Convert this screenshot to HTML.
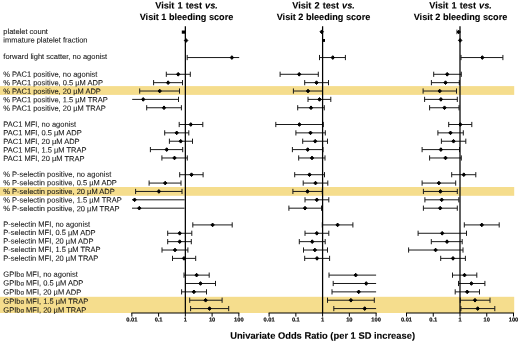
<!DOCTYPE html><html><head><meta charset="utf-8"><style>html,body{margin:0;padding:0;background:#fff}svg{display:block}text{font-family:"Liberation Sans",sans-serif}</style></head><body>
<svg width="520" height="343" viewBox="0 0 520 343">
<rect width="520" height="343" fill="#fff"/>
<rect x="0" y="86.1" width="514.2" height="8.8" fill="#F5DD8D"/>
<rect x="0" y="187.0" width="514.2" height="8.8" fill="#F5DD8D"/>
<rect x="0" y="296.8" width="514.2" height="16.2" fill="#F5DD8D"/>
<line x1="187.2" y1="57.55" x2="239.2" y2="57.55" stroke="#1a1a1a" stroke-width="1.0"/>
<line x1="187.2" y1="54.95" x2="187.2" y2="60.15" stroke="#1a1a1a" stroke-width="1.0"/>
<line x1="166.3" y1="74.29" x2="190.3" y2="74.29" stroke="#1a1a1a" stroke-width="1.0"/>
<line x1="166.3" y1="71.69" x2="166.3" y2="76.89" stroke="#1a1a1a" stroke-width="1.0"/>
<line x1="190.3" y1="71.69" x2="190.3" y2="76.89" stroke="#1a1a1a" stroke-width="1.0"/>
<line x1="153.6" y1="82.66" x2="182.5" y2="82.66" stroke="#1a1a1a" stroke-width="1.0"/>
<line x1="153.6" y1="80.06" x2="153.6" y2="85.26" stroke="#1a1a1a" stroke-width="1.0"/>
<line x1="182.5" y1="80.06" x2="182.5" y2="85.26" stroke="#1a1a1a" stroke-width="1.0"/>
<line x1="139.7" y1="91.03" x2="179.5" y2="91.03" stroke="#1a1a1a" stroke-width="1.0"/>
<line x1="139.7" y1="88.43" x2="139.7" y2="93.63" stroke="#1a1a1a" stroke-width="1.0"/>
<line x1="179.5" y1="88.43" x2="179.5" y2="93.63" stroke="#1a1a1a" stroke-width="1.0"/>
<line x1="132.2" y1="99.39" x2="178.5" y2="99.39" stroke="#1a1a1a" stroke-width="1.0"/>
<line x1="178.5" y1="96.79" x2="178.5" y2="101.99" stroke="#1a1a1a" stroke-width="1.0"/>
<line x1="146.7" y1="107.76" x2="181.4" y2="107.76" stroke="#1a1a1a" stroke-width="1.0"/>
<line x1="146.7" y1="105.16" x2="146.7" y2="110.36" stroke="#1a1a1a" stroke-width="1.0"/>
<line x1="181.4" y1="105.16" x2="181.4" y2="110.36" stroke="#1a1a1a" stroke-width="1.0"/>
<line x1="179.2" y1="124.50" x2="202.8" y2="124.50" stroke="#1a1a1a" stroke-width="1.0"/>
<line x1="179.2" y1="121.90" x2="179.2" y2="127.10" stroke="#1a1a1a" stroke-width="1.0"/>
<line x1="202.8" y1="121.90" x2="202.8" y2="127.10" stroke="#1a1a1a" stroke-width="1.0"/>
<line x1="164.7" y1="132.87" x2="188.8" y2="132.87" stroke="#1a1a1a" stroke-width="1.0"/>
<line x1="164.7" y1="130.27" x2="164.7" y2="135.47" stroke="#1a1a1a" stroke-width="1.0"/>
<line x1="188.8" y1="130.27" x2="188.8" y2="135.47" stroke="#1a1a1a" stroke-width="1.0"/>
<line x1="169.4" y1="141.23" x2="192.5" y2="141.23" stroke="#1a1a1a" stroke-width="1.0"/>
<line x1="169.4" y1="138.63" x2="169.4" y2="143.83" stroke="#1a1a1a" stroke-width="1.0"/>
<line x1="192.5" y1="138.63" x2="192.5" y2="143.83" stroke="#1a1a1a" stroke-width="1.0"/>
<line x1="150.4" y1="149.60" x2="182.7" y2="149.60" stroke="#1a1a1a" stroke-width="1.0"/>
<line x1="150.4" y1="147.00" x2="150.4" y2="152.20" stroke="#1a1a1a" stroke-width="1.0"/>
<line x1="182.7" y1="147.00" x2="182.7" y2="152.20" stroke="#1a1a1a" stroke-width="1.0"/>
<line x1="161.9" y1="157.97" x2="187.3" y2="157.97" stroke="#1a1a1a" stroke-width="1.0"/>
<line x1="161.9" y1="155.37" x2="161.9" y2="160.57" stroke="#1a1a1a" stroke-width="1.0"/>
<line x1="187.3" y1="155.37" x2="187.3" y2="160.57" stroke="#1a1a1a" stroke-width="1.0"/>
<line x1="179.7" y1="174.71" x2="203.1" y2="174.71" stroke="#1a1a1a" stroke-width="1.0"/>
<line x1="179.7" y1="172.11" x2="179.7" y2="177.31" stroke="#1a1a1a" stroke-width="1.0"/>
<line x1="203.1" y1="172.11" x2="203.1" y2="177.31" stroke="#1a1a1a" stroke-width="1.0"/>
<line x1="149.1" y1="183.07" x2="181" y2="183.07" stroke="#1a1a1a" stroke-width="1.0"/>
<line x1="149.1" y1="180.47" x2="149.1" y2="185.67" stroke="#1a1a1a" stroke-width="1.0"/>
<line x1="181" y1="180.47" x2="181" y2="185.67" stroke="#1a1a1a" stroke-width="1.0"/>
<line x1="135.6" y1="191.44" x2="182" y2="191.44" stroke="#1a1a1a" stroke-width="1.0"/>
<line x1="135.6" y1="188.84" x2="135.6" y2="194.04" stroke="#1a1a1a" stroke-width="1.0"/>
<line x1="182" y1="188.84" x2="182" y2="194.04" stroke="#1a1a1a" stroke-width="1.0"/>
<line x1="132" y1="199.81" x2="184.7" y2="199.81" stroke="#1a1a1a" stroke-width="1.0"/>
<line x1="132" y1="208.18" x2="184.5" y2="208.18" stroke="#1a1a1a" stroke-width="1.0"/>
<line x1="192.8" y1="224.91" x2="232.2" y2="224.91" stroke="#1a1a1a" stroke-width="1.0"/>
<line x1="192.8" y1="222.31" x2="192.8" y2="227.51" stroke="#1a1a1a" stroke-width="1.0"/>
<line x1="232.2" y1="222.31" x2="232.2" y2="227.51" stroke="#1a1a1a" stroke-width="1.0"/>
<line x1="167.7" y1="233.28" x2="191.8" y2="233.28" stroke="#1a1a1a" stroke-width="1.0"/>
<line x1="167.7" y1="230.68" x2="167.7" y2="235.88" stroke="#1a1a1a" stroke-width="1.0"/>
<line x1="191.8" y1="230.68" x2="191.8" y2="235.88" stroke="#1a1a1a" stroke-width="1.0"/>
<line x1="167.7" y1="241.65" x2="191.3" y2="241.65" stroke="#1a1a1a" stroke-width="1.0"/>
<line x1="167.7" y1="239.05" x2="167.7" y2="244.25" stroke="#1a1a1a" stroke-width="1.0"/>
<line x1="191.3" y1="239.05" x2="191.3" y2="244.25" stroke="#1a1a1a" stroke-width="1.0"/>
<line x1="162" y1="250.02" x2="187.9" y2="250.02" stroke="#1a1a1a" stroke-width="1.0"/>
<line x1="162" y1="247.42" x2="162" y2="252.62" stroke="#1a1a1a" stroke-width="1.0"/>
<line x1="187.9" y1="247.42" x2="187.9" y2="252.62" stroke="#1a1a1a" stroke-width="1.0"/>
<line x1="172.5" y1="258.39" x2="195.7" y2="258.39" stroke="#1a1a1a" stroke-width="1.0"/>
<line x1="172.5" y1="255.79" x2="172.5" y2="260.99" stroke="#1a1a1a" stroke-width="1.0"/>
<line x1="195.7" y1="255.79" x2="195.7" y2="260.99" stroke="#1a1a1a" stroke-width="1.0"/>
<line x1="184" y1="275.12" x2="209.2" y2="275.12" stroke="#1a1a1a" stroke-width="1.0"/>
<line x1="184" y1="272.52" x2="184" y2="277.72" stroke="#1a1a1a" stroke-width="1.0"/>
<line x1="209.2" y1="272.52" x2="209.2" y2="277.72" stroke="#1a1a1a" stroke-width="1.0"/>
<line x1="185.5" y1="283.49" x2="215.5" y2="283.49" stroke="#1a1a1a" stroke-width="1.0"/>
<line x1="185.5" y1="280.89" x2="185.5" y2="286.09" stroke="#1a1a1a" stroke-width="1.0"/>
<line x1="215.5" y1="280.89" x2="215.5" y2="286.09" stroke="#1a1a1a" stroke-width="1.0"/>
<line x1="181.6" y1="291.86" x2="206.5" y2="291.86" stroke="#1a1a1a" stroke-width="1.0"/>
<line x1="181.6" y1="289.26" x2="181.6" y2="294.46" stroke="#1a1a1a" stroke-width="1.0"/>
<line x1="206.5" y1="289.26" x2="206.5" y2="294.46" stroke="#1a1a1a" stroke-width="1.0"/>
<line x1="189.7" y1="300.23" x2="222.1" y2="300.23" stroke="#1a1a1a" stroke-width="1.0"/>
<line x1="189.7" y1="297.63" x2="189.7" y2="302.83" stroke="#1a1a1a" stroke-width="1.0"/>
<line x1="222.1" y1="297.63" x2="222.1" y2="302.83" stroke="#1a1a1a" stroke-width="1.0"/>
<line x1="190.6" y1="308.59" x2="228.7" y2="308.59" stroke="#1a1a1a" stroke-width="1.0"/>
<line x1="190.6" y1="305.99" x2="190.6" y2="311.19" stroke="#1a1a1a" stroke-width="1.0"/>
<line x1="228.7" y1="305.99" x2="228.7" y2="311.19" stroke="#1a1a1a" stroke-width="1.0"/>
<line x1="185.35" y1="26.3" x2="185.35" y2="313.0" stroke="#000" stroke-width="1.25"/>
<line x1="131.35" y1="313.0" x2="239.35" y2="313.0" stroke="#000" stroke-width="1.2"/>
<line x1="131.85" y1="313.0" x2="131.85" y2="316.6" stroke="#000" stroke-width="1"/>
<line x1="158.60" y1="313.0" x2="158.60" y2="316.6" stroke="#000" stroke-width="1"/>
<line x1="185.35" y1="313.0" x2="185.35" y2="316.6" stroke="#000" stroke-width="1"/>
<line x1="212.10" y1="313.0" x2="212.10" y2="316.6" stroke="#000" stroke-width="1"/>
<line x1="238.85" y1="313.0" x2="238.85" y2="316.6" stroke="#000" stroke-width="1"/>
<path d="M230.20 57.55L231.90 55.70L233.60 57.55L231.90 59.40Z" fill="#000" stroke="#000" stroke-width="1.0" stroke-linejoin="round"/>
<path d="M176.50 74.29L178.20 72.44L179.90 74.29L178.20 76.14Z" fill="#000" stroke="#000" stroke-width="1.0" stroke-linejoin="round"/>
<path d="M166.40 82.66L168.10 80.81L169.80 82.66L168.10 84.51Z" fill="#000" stroke="#000" stroke-width="1.0" stroke-linejoin="round"/>
<path d="M158.00 91.03L159.70 89.18L161.40 91.03L159.70 92.88Z" fill="#000" stroke="#000" stroke-width="1.0" stroke-linejoin="round"/>
<path d="M141.50 99.39L143.20 97.54L144.90 99.39L143.20 101.24Z" fill="#000" stroke="#000" stroke-width="1.0" stroke-linejoin="round"/>
<path d="M162.30 107.76L164.00 105.91L165.70 107.76L164.00 109.61Z" fill="#000" stroke="#000" stroke-width="1.0" stroke-linejoin="round"/>
<path d="M189.10 124.50L190.80 122.65L192.50 124.50L190.80 126.35Z" fill="#000" stroke="#000" stroke-width="1.0" stroke-linejoin="round"/>
<path d="M175.00 132.87L176.70 131.02L178.40 132.87L176.70 134.72Z" fill="#000" stroke="#000" stroke-width="1.0" stroke-linejoin="round"/>
<path d="M179.00 141.23L180.70 139.38L182.40 141.23L180.70 143.08Z" fill="#000" stroke="#000" stroke-width="1.0" stroke-linejoin="round"/>
<path d="M165.00 149.60L166.70 147.75L168.40 149.60L166.70 151.45Z" fill="#000" stroke="#000" stroke-width="1.0" stroke-linejoin="round"/>
<path d="M172.80 157.97L174.50 156.12L176.20 157.97L174.50 159.82Z" fill="#000" stroke="#000" stroke-width="1.0" stroke-linejoin="round"/>
<path d="M189.80 174.71L191.50 172.86L193.20 174.71L191.50 176.56Z" fill="#000" stroke="#000" stroke-width="1.0" stroke-linejoin="round"/>
<path d="M163.50 183.07L165.20 181.22L166.90 183.07L165.20 184.92Z" fill="#000" stroke="#000" stroke-width="1.0" stroke-linejoin="round"/>
<path d="M157.20 191.44L158.90 189.59L160.60 191.44L158.90 193.29Z" fill="#000" stroke="#000" stroke-width="1.0" stroke-linejoin="round"/>
<path d="M132.90 199.81L134.60 197.96L136.30 199.81L134.60 201.66Z" fill="#000" stroke="#000" stroke-width="1.0" stroke-linejoin="round"/>
<path d="M137.60 208.18L139.30 206.33L141.00 208.18L139.30 210.03Z" fill="#000" stroke="#000" stroke-width="1.0" stroke-linejoin="round"/>
<path d="M210.90 224.91L212.60 223.06L214.30 224.91L212.60 226.76Z" fill="#000" stroke="#000" stroke-width="1.0" stroke-linejoin="round"/>
<path d="M178.00 233.28L179.70 231.43L181.40 233.28L179.70 235.13Z" fill="#000" stroke="#000" stroke-width="1.0" stroke-linejoin="round"/>
<path d="M178.00 241.65L179.70 239.80L181.40 241.65L179.70 243.50Z" fill="#000" stroke="#000" stroke-width="1.0" stroke-linejoin="round"/>
<path d="M173.30 250.02L175.00 248.17L176.70 250.02L175.00 251.87Z" fill="#000" stroke="#000" stroke-width="1.0" stroke-linejoin="round"/>
<path d="M182.30 258.39L184.00 256.54L185.70 258.39L184.00 260.24Z" fill="#000" stroke="#000" stroke-width="1.0" stroke-linejoin="round"/>
<path d="M194.90 275.12L196.60 273.27L198.30 275.12L196.60 276.97Z" fill="#000" stroke="#000" stroke-width="1.0" stroke-linejoin="round"/>
<path d="M198.80 283.49L200.50 281.64L202.20 283.49L200.50 285.34Z" fill="#000" stroke="#000" stroke-width="1.0" stroke-linejoin="round"/>
<path d="M192.20 291.86L193.90 290.01L195.60 291.86L193.90 293.71Z" fill="#000" stroke="#000" stroke-width="1.0" stroke-linejoin="round"/>
<path d="M203.90 300.23L205.60 298.38L207.30 300.23L205.60 302.08Z" fill="#000" stroke="#000" stroke-width="1.0" stroke-linejoin="round"/>
<path d="M207.80 308.59L209.50 306.74L211.20 308.59L209.50 310.44Z" fill="#000" stroke="#000" stroke-width="1.0" stroke-linejoin="round"/>
<line x1="319.5" y1="57.55" x2="345.4" y2="57.55" stroke="#1a1a1a" stroke-width="1.0"/>
<line x1="319.5" y1="54.95" x2="319.5" y2="60.15" stroke="#1a1a1a" stroke-width="1.0"/>
<line x1="345.4" y1="54.95" x2="345.4" y2="60.15" stroke="#1a1a1a" stroke-width="1.0"/>
<line x1="280.1" y1="74.29" x2="318.3" y2="74.29" stroke="#1a1a1a" stroke-width="1.0"/>
<line x1="280.1" y1="71.69" x2="280.1" y2="76.89" stroke="#1a1a1a" stroke-width="1.0"/>
<line x1="318.3" y1="71.69" x2="318.3" y2="76.89" stroke="#1a1a1a" stroke-width="1.0"/>
<line x1="304.7" y1="82.66" x2="328.5" y2="82.66" stroke="#1a1a1a" stroke-width="1.0"/>
<line x1="304.7" y1="80.06" x2="304.7" y2="85.26" stroke="#1a1a1a" stroke-width="1.0"/>
<line x1="328.5" y1="80.06" x2="328.5" y2="85.26" stroke="#1a1a1a" stroke-width="1.0"/>
<line x1="293.4" y1="91.03" x2="322.5" y2="91.03" stroke="#1a1a1a" stroke-width="1.0"/>
<line x1="293.4" y1="88.43" x2="293.4" y2="93.63" stroke="#1a1a1a" stroke-width="1.0"/>
<line x1="322.5" y1="88.43" x2="322.5" y2="93.63" stroke="#1a1a1a" stroke-width="1.0"/>
<line x1="308" y1="99.39" x2="330.8" y2="99.39" stroke="#1a1a1a" stroke-width="1.0"/>
<line x1="308" y1="96.79" x2="308" y2="101.99" stroke="#1a1a1a" stroke-width="1.0"/>
<line x1="330.8" y1="96.79" x2="330.8" y2="101.99" stroke="#1a1a1a" stroke-width="1.0"/>
<line x1="297.7" y1="107.76" x2="324.3" y2="107.76" stroke="#1a1a1a" stroke-width="1.0"/>
<line x1="297.7" y1="105.16" x2="297.7" y2="110.36" stroke="#1a1a1a" stroke-width="1.0"/>
<line x1="324.3" y1="105.16" x2="324.3" y2="110.36" stroke="#1a1a1a" stroke-width="1.0"/>
<line x1="275.8" y1="124.50" x2="323.3" y2="124.50" stroke="#1a1a1a" stroke-width="1.0"/>
<line x1="275.8" y1="121.90" x2="275.8" y2="127.10" stroke="#1a1a1a" stroke-width="1.0"/>
<line x1="323.3" y1="121.90" x2="323.3" y2="127.10" stroke="#1a1a1a" stroke-width="1.0"/>
<line x1="295.9" y1="132.87" x2="325.3" y2="132.87" stroke="#1a1a1a" stroke-width="1.0"/>
<line x1="295.9" y1="130.27" x2="295.9" y2="135.47" stroke="#1a1a1a" stroke-width="1.0"/>
<line x1="325.3" y1="130.27" x2="325.3" y2="135.47" stroke="#1a1a1a" stroke-width="1.0"/>
<line x1="302.7" y1="141.23" x2="327.5" y2="141.23" stroke="#1a1a1a" stroke-width="1.0"/>
<line x1="302.7" y1="138.63" x2="302.7" y2="143.83" stroke="#1a1a1a" stroke-width="1.0"/>
<line x1="327.5" y1="138.63" x2="327.5" y2="143.83" stroke="#1a1a1a" stroke-width="1.0"/>
<line x1="292.4" y1="149.60" x2="323" y2="149.60" stroke="#1a1a1a" stroke-width="1.0"/>
<line x1="292.4" y1="147.00" x2="292.4" y2="152.20" stroke="#1a1a1a" stroke-width="1.0"/>
<line x1="323" y1="147.00" x2="323" y2="152.20" stroke="#1a1a1a" stroke-width="1.0"/>
<line x1="298.7" y1="157.97" x2="325" y2="157.97" stroke="#1a1a1a" stroke-width="1.0"/>
<line x1="298.7" y1="155.37" x2="298.7" y2="160.57" stroke="#1a1a1a" stroke-width="1.0"/>
<line x1="325" y1="155.37" x2="325" y2="160.57" stroke="#1a1a1a" stroke-width="1.0"/>
<line x1="294.7" y1="174.71" x2="324.5" y2="174.71" stroke="#1a1a1a" stroke-width="1.0"/>
<line x1="294.7" y1="172.11" x2="294.7" y2="177.31" stroke="#1a1a1a" stroke-width="1.0"/>
<line x1="324.5" y1="172.11" x2="324.5" y2="177.31" stroke="#1a1a1a" stroke-width="1.0"/>
<line x1="303.2" y1="183.07" x2="327.8" y2="183.07" stroke="#1a1a1a" stroke-width="1.0"/>
<line x1="303.2" y1="180.47" x2="303.2" y2="185.67" stroke="#1a1a1a" stroke-width="1.0"/>
<line x1="327.8" y1="180.47" x2="327.8" y2="185.67" stroke="#1a1a1a" stroke-width="1.0"/>
<line x1="292.9" y1="191.44" x2="322.3" y2="191.44" stroke="#1a1a1a" stroke-width="1.0"/>
<line x1="292.9" y1="188.84" x2="292.9" y2="194.04" stroke="#1a1a1a" stroke-width="1.0"/>
<line x1="322.3" y1="188.84" x2="322.3" y2="194.04" stroke="#1a1a1a" stroke-width="1.0"/>
<line x1="305" y1="199.81" x2="328.8" y2="199.81" stroke="#1a1a1a" stroke-width="1.0"/>
<line x1="305" y1="197.21" x2="305" y2="202.41" stroke="#1a1a1a" stroke-width="1.0"/>
<line x1="328.8" y1="197.21" x2="328.8" y2="202.41" stroke="#1a1a1a" stroke-width="1.0"/>
<line x1="288.9" y1="208.18" x2="321.5" y2="208.18" stroke="#1a1a1a" stroke-width="1.0"/>
<line x1="288.9" y1="205.58" x2="288.9" y2="210.78" stroke="#1a1a1a" stroke-width="1.0"/>
<line x1="321.5" y1="205.58" x2="321.5" y2="210.78" stroke="#1a1a1a" stroke-width="1.0"/>
<line x1="322.3" y1="224.91" x2="352.9" y2="224.91" stroke="#1a1a1a" stroke-width="1.0"/>
<line x1="322.3" y1="222.31" x2="322.3" y2="227.51" stroke="#1a1a1a" stroke-width="1.0"/>
<line x1="352.9" y1="222.31" x2="352.9" y2="227.51" stroke="#1a1a1a" stroke-width="1.0"/>
<line x1="305" y1="233.28" x2="328.8" y2="233.28" stroke="#1a1a1a" stroke-width="1.0"/>
<line x1="305" y1="230.68" x2="305" y2="235.88" stroke="#1a1a1a" stroke-width="1.0"/>
<line x1="328.8" y1="230.68" x2="328.8" y2="235.88" stroke="#1a1a1a" stroke-width="1.0"/>
<line x1="299.3" y1="241.65" x2="325.2" y2="241.65" stroke="#1a1a1a" stroke-width="1.0"/>
<line x1="299.3" y1="239.05" x2="299.3" y2="244.25" stroke="#1a1a1a" stroke-width="1.0"/>
<line x1="325.2" y1="239.05" x2="325.2" y2="244.25" stroke="#1a1a1a" stroke-width="1.0"/>
<line x1="303.5" y1="250.02" x2="327.5" y2="250.02" stroke="#1a1a1a" stroke-width="1.0"/>
<line x1="303.5" y1="247.42" x2="303.5" y2="252.62" stroke="#1a1a1a" stroke-width="1.0"/>
<line x1="327.5" y1="247.42" x2="327.5" y2="252.62" stroke="#1a1a1a" stroke-width="1.0"/>
<line x1="304.7" y1="258.39" x2="329.6" y2="258.39" stroke="#1a1a1a" stroke-width="1.0"/>
<line x1="304.7" y1="255.79" x2="304.7" y2="260.99" stroke="#1a1a1a" stroke-width="1.0"/>
<line x1="329.6" y1="255.79" x2="329.6" y2="260.99" stroke="#1a1a1a" stroke-width="1.0"/>
<line x1="329" y1="275.12" x2="376.1" y2="275.12" stroke="#1a1a1a" stroke-width="1.0"/>
<line x1="329" y1="272.52" x2="329" y2="277.72" stroke="#1a1a1a" stroke-width="1.0"/>
<line x1="333.2" y1="283.49" x2="376.1" y2="283.49" stroke="#1a1a1a" stroke-width="1.0"/>
<line x1="333.2" y1="280.89" x2="333.2" y2="286.09" stroke="#1a1a1a" stroke-width="1.0"/>
<line x1="332" y1="291.86" x2="376.1" y2="291.86" stroke="#1a1a1a" stroke-width="1.0"/>
<line x1="332" y1="289.26" x2="332" y2="294.46" stroke="#1a1a1a" stroke-width="1.0"/>
<line x1="327.5" y1="300.23" x2="374.3" y2="300.23" stroke="#1a1a1a" stroke-width="1.0"/>
<line x1="327.5" y1="297.63" x2="327.5" y2="302.83" stroke="#1a1a1a" stroke-width="1.0"/>
<line x1="374.3" y1="297.63" x2="374.3" y2="302.83" stroke="#1a1a1a" stroke-width="1.0"/>
<line x1="333.8" y1="308.59" x2="376.1" y2="308.59" stroke="#1a1a1a" stroke-width="1.0"/>
<line x1="333.8" y1="305.99" x2="333.8" y2="311.19" stroke="#1a1a1a" stroke-width="1.0"/>
<line x1="322.6" y1="26.3" x2="322.6" y2="313.0" stroke="#000" stroke-width="1.25"/>
<line x1="268.60" y1="313.0" x2="376.60" y2="313.0" stroke="#000" stroke-width="1.2"/>
<line x1="269.10" y1="313.0" x2="269.10" y2="316.6" stroke="#000" stroke-width="1"/>
<line x1="295.85" y1="313.0" x2="295.85" y2="316.6" stroke="#000" stroke-width="1"/>
<line x1="322.60" y1="313.0" x2="322.60" y2="316.6" stroke="#000" stroke-width="1"/>
<line x1="349.35" y1="313.0" x2="349.35" y2="316.6" stroke="#000" stroke-width="1"/>
<line x1="376.10" y1="313.0" x2="376.10" y2="316.6" stroke="#000" stroke-width="1"/>
<path d="M331.10 57.55L332.80 55.70L334.50 57.55L332.80 59.40Z" fill="#000" stroke="#000" stroke-width="1.0" stroke-linejoin="round"/>
<path d="M297.50 74.29L299.20 72.44L300.90 74.29L299.20 76.14Z" fill="#000" stroke="#000" stroke-width="1.0" stroke-linejoin="round"/>
<path d="M314.80 82.66L316.50 80.81L318.20 82.66L316.50 84.51Z" fill="#000" stroke="#000" stroke-width="1.0" stroke-linejoin="round"/>
<path d="M306.30 91.03L308.00 89.18L309.70 91.03L308.00 92.88Z" fill="#000" stroke="#000" stroke-width="1.0" stroke-linejoin="round"/>
<path d="M317.80 99.39L319.50 97.54L321.20 99.39L319.50 101.24Z" fill="#000" stroke="#000" stroke-width="1.0" stroke-linejoin="round"/>
<path d="M309.30 107.76L311.00 105.91L312.70 107.76L311.00 109.61Z" fill="#000" stroke="#000" stroke-width="1.0" stroke-linejoin="round"/>
<path d="M297.70 124.50L299.40 122.65L301.10 124.50L299.40 126.35Z" fill="#000" stroke="#000" stroke-width="1.0" stroke-linejoin="round"/>
<path d="M308.80 132.87L310.50 131.02L312.20 132.87L310.50 134.72Z" fill="#000" stroke="#000" stroke-width="1.0" stroke-linejoin="round"/>
<path d="M313.50 141.23L315.20 139.38L316.90 141.23L315.20 143.08Z" fill="#000" stroke="#000" stroke-width="1.0" stroke-linejoin="round"/>
<path d="M306.00 149.60L307.70 147.75L309.40 149.60L307.70 151.45Z" fill="#000" stroke="#000" stroke-width="1.0" stroke-linejoin="round"/>
<path d="M310.30 157.97L312.00 156.12L313.70 157.97L312.00 159.82Z" fill="#000" stroke="#000" stroke-width="1.0" stroke-linejoin="round"/>
<path d="M307.80 174.71L309.50 172.86L311.20 174.71L309.50 176.56Z" fill="#000" stroke="#000" stroke-width="1.0" stroke-linejoin="round"/>
<path d="M313.80 183.07L315.50 181.22L317.20 183.07L315.50 184.92Z" fill="#000" stroke="#000" stroke-width="1.0" stroke-linejoin="round"/>
<path d="M305.80 191.44L307.50 189.59L309.20 191.44L307.50 193.29Z" fill="#000" stroke="#000" stroke-width="1.0" stroke-linejoin="round"/>
<path d="M315.10 199.81L316.80 197.96L318.50 199.81L316.80 201.66Z" fill="#000" stroke="#000" stroke-width="1.0" stroke-linejoin="round"/>
<path d="M303.30 208.18L305.00 206.33L306.70 208.18L305.00 210.03Z" fill="#000" stroke="#000" stroke-width="1.0" stroke-linejoin="round"/>
<path d="M335.90 224.91L337.60 223.06L339.30 224.91L337.60 226.76Z" fill="#000" stroke="#000" stroke-width="1.0" stroke-linejoin="round"/>
<path d="M315.10 233.28L316.80 231.43L318.50 233.28L316.80 235.13Z" fill="#000" stroke="#000" stroke-width="1.0" stroke-linejoin="round"/>
<path d="M310.50 241.65L312.20 239.80L313.90 241.65L312.20 243.50Z" fill="#000" stroke="#000" stroke-width="1.0" stroke-linejoin="round"/>
<path d="M313.20 250.02L314.90 248.17L316.60 250.02L314.90 251.87Z" fill="#000" stroke="#000" stroke-width="1.0" stroke-linejoin="round"/>
<path d="M315.30 258.39L317.00 256.54L318.70 258.39L317.00 260.24Z" fill="#000" stroke="#000" stroke-width="1.0" stroke-linejoin="round"/>
<path d="M354.00 275.12L355.70 273.27L357.40 275.12L355.70 276.97Z" fill="#000" stroke="#000" stroke-width="1.0" stroke-linejoin="round"/>
<path d="M364.50 283.49L366.20 281.64L367.90 283.49L366.20 285.34Z" fill="#000" stroke="#000" stroke-width="1.0" stroke-linejoin="round"/>
<path d="M357.00 291.86L358.70 290.01L360.40 291.86L358.70 293.71Z" fill="#000" stroke="#000" stroke-width="1.0" stroke-linejoin="round"/>
<path d="M349.20 300.23L350.90 298.38L352.60 300.23L350.90 302.08Z" fill="#000" stroke="#000" stroke-width="1.0" stroke-linejoin="round"/>
<path d="M363.00 308.59L364.70 306.74L366.40 308.59L364.70 310.44Z" fill="#000" stroke="#000" stroke-width="1.0" stroke-linejoin="round"/>
<line x1="461" y1="57.55" x2="502.9" y2="57.55" stroke="#1a1a1a" stroke-width="1.0"/>
<line x1="461" y1="54.95" x2="461" y2="60.15" stroke="#1a1a1a" stroke-width="1.0"/>
<line x1="502.9" y1="54.95" x2="502.9" y2="60.15" stroke="#1a1a1a" stroke-width="1.0"/>
<line x1="433.7" y1="74.29" x2="461.3" y2="74.29" stroke="#1a1a1a" stroke-width="1.0"/>
<line x1="433.7" y1="71.69" x2="433.7" y2="76.89" stroke="#1a1a1a" stroke-width="1.0"/>
<line x1="461.3" y1="71.69" x2="461.3" y2="76.89" stroke="#1a1a1a" stroke-width="1.0"/>
<line x1="431.4" y1="82.66" x2="459.3" y2="82.66" stroke="#1a1a1a" stroke-width="1.0"/>
<line x1="431.4" y1="80.06" x2="431.4" y2="85.26" stroke="#1a1a1a" stroke-width="1.0"/>
<line x1="459.3" y1="80.06" x2="459.3" y2="85.26" stroke="#1a1a1a" stroke-width="1.0"/>
<line x1="423.1" y1="91.03" x2="456.5" y2="91.03" stroke="#1a1a1a" stroke-width="1.0"/>
<line x1="423.1" y1="88.43" x2="423.1" y2="93.63" stroke="#1a1a1a" stroke-width="1.0"/>
<line x1="456.5" y1="88.43" x2="456.5" y2="93.63" stroke="#1a1a1a" stroke-width="1.0"/>
<line x1="424.6" y1="99.39" x2="457.3" y2="99.39" stroke="#1a1a1a" stroke-width="1.0"/>
<line x1="424.6" y1="96.79" x2="424.6" y2="101.99" stroke="#1a1a1a" stroke-width="1.0"/>
<line x1="457.3" y1="96.79" x2="457.3" y2="101.99" stroke="#1a1a1a" stroke-width="1.0"/>
<line x1="429.6" y1="107.76" x2="459" y2="107.76" stroke="#1a1a1a" stroke-width="1.0"/>
<line x1="429.6" y1="105.16" x2="429.6" y2="110.36" stroke="#1a1a1a" stroke-width="1.0"/>
<line x1="459" y1="105.16" x2="459" y2="110.36" stroke="#1a1a1a" stroke-width="1.0"/>
<line x1="448.7" y1="124.50" x2="471.8" y2="124.50" stroke="#1a1a1a" stroke-width="1.0"/>
<line x1="448.7" y1="121.90" x2="448.7" y2="127.10" stroke="#1a1a1a" stroke-width="1.0"/>
<line x1="471.8" y1="121.90" x2="471.8" y2="127.10" stroke="#1a1a1a" stroke-width="1.0"/>
<line x1="437.9" y1="132.87" x2="463.3" y2="132.87" stroke="#1a1a1a" stroke-width="1.0"/>
<line x1="437.9" y1="130.27" x2="437.9" y2="135.47" stroke="#1a1a1a" stroke-width="1.0"/>
<line x1="463.3" y1="130.27" x2="463.3" y2="135.47" stroke="#1a1a1a" stroke-width="1.0"/>
<line x1="441.4" y1="141.23" x2="465.8" y2="141.23" stroke="#1a1a1a" stroke-width="1.0"/>
<line x1="441.4" y1="138.63" x2="441.4" y2="143.83" stroke="#1a1a1a" stroke-width="1.0"/>
<line x1="465.8" y1="138.63" x2="465.8" y2="143.83" stroke="#1a1a1a" stroke-width="1.0"/>
<line x1="422.1" y1="149.60" x2="459.5" y2="149.60" stroke="#1a1a1a" stroke-width="1.0"/>
<line x1="422.1" y1="147.00" x2="422.1" y2="152.20" stroke="#1a1a1a" stroke-width="1.0"/>
<line x1="459.5" y1="147.00" x2="459.5" y2="152.20" stroke="#1a1a1a" stroke-width="1.0"/>
<line x1="429.6" y1="157.97" x2="461.3" y2="157.97" stroke="#1a1a1a" stroke-width="1.0"/>
<line x1="429.6" y1="155.37" x2="429.6" y2="160.57" stroke="#1a1a1a" stroke-width="1.0"/>
<line x1="461.3" y1="155.37" x2="461.3" y2="160.57" stroke="#1a1a1a" stroke-width="1.0"/>
<line x1="451.7" y1="174.71" x2="475.8" y2="174.71" stroke="#1a1a1a" stroke-width="1.0"/>
<line x1="451.7" y1="172.11" x2="451.7" y2="177.31" stroke="#1a1a1a" stroke-width="1.0"/>
<line x1="475.8" y1="172.11" x2="475.8" y2="177.31" stroke="#1a1a1a" stroke-width="1.0"/>
<line x1="422.1" y1="183.07" x2="455.7" y2="183.07" stroke="#1a1a1a" stroke-width="1.0"/>
<line x1="422.1" y1="180.47" x2="422.1" y2="185.67" stroke="#1a1a1a" stroke-width="1.0"/>
<line x1="455.7" y1="180.47" x2="455.7" y2="185.67" stroke="#1a1a1a" stroke-width="1.0"/>
<line x1="423.4" y1="191.44" x2="457.3" y2="191.44" stroke="#1a1a1a" stroke-width="1.0"/>
<line x1="423.4" y1="188.84" x2="423.4" y2="194.04" stroke="#1a1a1a" stroke-width="1.0"/>
<line x1="457.3" y1="188.84" x2="457.3" y2="194.04" stroke="#1a1a1a" stroke-width="1.0"/>
<line x1="424.9" y1="199.81" x2="458.8" y2="199.81" stroke="#1a1a1a" stroke-width="1.0"/>
<line x1="424.9" y1="197.21" x2="424.9" y2="202.41" stroke="#1a1a1a" stroke-width="1.0"/>
<line x1="458.8" y1="197.21" x2="458.8" y2="202.41" stroke="#1a1a1a" stroke-width="1.0"/>
<line x1="423.4" y1="208.18" x2="457.3" y2="208.18" stroke="#1a1a1a" stroke-width="1.0"/>
<line x1="423.4" y1="205.58" x2="423.4" y2="210.78" stroke="#1a1a1a" stroke-width="1.0"/>
<line x1="457.3" y1="205.58" x2="457.3" y2="210.78" stroke="#1a1a1a" stroke-width="1.0"/>
<line x1="464.3" y1="224.91" x2="499.2" y2="224.91" stroke="#1a1a1a" stroke-width="1.0"/>
<line x1="464.3" y1="222.31" x2="464.3" y2="227.51" stroke="#1a1a1a" stroke-width="1.0"/>
<line x1="499.2" y1="222.31" x2="499.2" y2="227.51" stroke="#1a1a1a" stroke-width="1.0"/>
<line x1="418.1" y1="233.28" x2="466.5" y2="233.28" stroke="#1a1a1a" stroke-width="1.0"/>
<line x1="418.1" y1="230.68" x2="418.1" y2="235.88" stroke="#1a1a1a" stroke-width="1.0"/>
<line x1="466.5" y1="230.68" x2="466.5" y2="235.88" stroke="#1a1a1a" stroke-width="1.0"/>
<line x1="431.3" y1="241.65" x2="462.2" y2="241.65" stroke="#1a1a1a" stroke-width="1.0"/>
<line x1="431.3" y1="239.05" x2="431.3" y2="244.25" stroke="#1a1a1a" stroke-width="1.0"/>
<line x1="462.2" y1="239.05" x2="462.2" y2="244.25" stroke="#1a1a1a" stroke-width="1.0"/>
<line x1="408.6" y1="250.02" x2="463" y2="250.02" stroke="#1a1a1a" stroke-width="1.0"/>
<line x1="408.6" y1="247.42" x2="408.6" y2="252.62" stroke="#1a1a1a" stroke-width="1.0"/>
<line x1="463" y1="247.42" x2="463" y2="252.62" stroke="#1a1a1a" stroke-width="1.0"/>
<line x1="440.7" y1="258.39" x2="465.4" y2="258.39" stroke="#1a1a1a" stroke-width="1.0"/>
<line x1="440.7" y1="255.79" x2="440.7" y2="260.99" stroke="#1a1a1a" stroke-width="1.0"/>
<line x1="465.4" y1="255.79" x2="465.4" y2="260.99" stroke="#1a1a1a" stroke-width="1.0"/>
<line x1="452.5" y1="275.12" x2="476.8" y2="275.12" stroke="#1a1a1a" stroke-width="1.0"/>
<line x1="452.5" y1="272.52" x2="452.5" y2="277.72" stroke="#1a1a1a" stroke-width="1.0"/>
<line x1="476.8" y1="272.52" x2="476.8" y2="277.72" stroke="#1a1a1a" stroke-width="1.0"/>
<line x1="458.5" y1="283.49" x2="484.9" y2="283.49" stroke="#1a1a1a" stroke-width="1.0"/>
<line x1="458.5" y1="280.89" x2="458.5" y2="286.09" stroke="#1a1a1a" stroke-width="1.0"/>
<line x1="484.9" y1="280.89" x2="484.9" y2="286.09" stroke="#1a1a1a" stroke-width="1.0"/>
<line x1="455.2" y1="291.86" x2="479.5" y2="291.86" stroke="#1a1a1a" stroke-width="1.0"/>
<line x1="455.2" y1="289.26" x2="455.2" y2="294.46" stroke="#1a1a1a" stroke-width="1.0"/>
<line x1="479.5" y1="289.26" x2="479.5" y2="294.46" stroke="#1a1a1a" stroke-width="1.0"/>
<line x1="460.3" y1="300.23" x2="490" y2="300.23" stroke="#1a1a1a" stroke-width="1.0"/>
<line x1="460.3" y1="297.63" x2="460.3" y2="302.83" stroke="#1a1a1a" stroke-width="1.0"/>
<line x1="490" y1="297.63" x2="490" y2="302.83" stroke="#1a1a1a" stroke-width="1.0"/>
<line x1="460.9" y1="308.59" x2="494.8" y2="308.59" stroke="#1a1a1a" stroke-width="1.0"/>
<line x1="460.9" y1="305.99" x2="460.9" y2="311.19" stroke="#1a1a1a" stroke-width="1.0"/>
<line x1="494.8" y1="305.99" x2="494.8" y2="311.19" stroke="#1a1a1a" stroke-width="1.0"/>
<line x1="460.0" y1="26.3" x2="460.0" y2="313.0" stroke="#000" stroke-width="1.25"/>
<line x1="406.00" y1="313.0" x2="514.00" y2="313.0" stroke="#000" stroke-width="1.2"/>
<line x1="406.50" y1="313.0" x2="406.50" y2="316.6" stroke="#000" stroke-width="1"/>
<line x1="433.25" y1="313.0" x2="433.25" y2="316.6" stroke="#000" stroke-width="1"/>
<line x1="460.00" y1="313.0" x2="460.00" y2="316.6" stroke="#000" stroke-width="1"/>
<line x1="486.75" y1="313.0" x2="486.75" y2="316.6" stroke="#000" stroke-width="1"/>
<line x1="513.50" y1="313.0" x2="513.50" y2="316.6" stroke="#000" stroke-width="1"/>
<path d="M480.60 57.55L482.30 55.70L484.00 57.55L482.30 59.40Z" fill="#000" stroke="#000" stroke-width="1.0" stroke-linejoin="round"/>
<path d="M445.50 74.29L447.20 72.44L448.90 74.29L447.20 76.14Z" fill="#000" stroke="#000" stroke-width="1.0" stroke-linejoin="round"/>
<path d="M443.80 82.66L445.50 80.81L447.20 82.66L445.50 84.51Z" fill="#000" stroke="#000" stroke-width="1.0" stroke-linejoin="round"/>
<path d="M438.00 91.03L439.70 89.18L441.40 91.03L439.70 92.88Z" fill="#000" stroke="#000" stroke-width="1.0" stroke-linejoin="round"/>
<path d="M439.20 99.39L440.90 97.54L442.60 99.39L440.90 101.24Z" fill="#000" stroke="#000" stroke-width="1.0" stroke-linejoin="round"/>
<path d="M442.80 107.76L444.50 105.91L446.20 107.76L444.50 109.61Z" fill="#000" stroke="#000" stroke-width="1.0" stroke-linejoin="round"/>
<path d="M458.60 124.50L460.30 122.65L462.00 124.50L460.30 126.35Z" fill="#000" stroke="#000" stroke-width="1.0" stroke-linejoin="round"/>
<path d="M448.80 132.87L450.50 131.02L452.20 132.87L450.50 134.72Z" fill="#000" stroke="#000" stroke-width="1.0" stroke-linejoin="round"/>
<path d="M451.80 141.23L453.50 139.38L455.20 141.23L453.50 143.08Z" fill="#000" stroke="#000" stroke-width="1.0" stroke-linejoin="round"/>
<path d="M439.20 149.60L440.90 147.75L442.60 149.60L440.90 151.45Z" fill="#000" stroke="#000" stroke-width="1.0" stroke-linejoin="round"/>
<path d="M443.80 157.97L445.50 156.12L447.20 157.97L445.50 159.82Z" fill="#000" stroke="#000" stroke-width="1.0" stroke-linejoin="round"/>
<path d="M462.10 174.71L463.80 172.86L465.50 174.71L463.80 176.56Z" fill="#000" stroke="#000" stroke-width="1.0" stroke-linejoin="round"/>
<path d="M437.20 183.07L438.90 181.22L440.60 183.07L438.90 184.92Z" fill="#000" stroke="#000" stroke-width="1.0" stroke-linejoin="round"/>
<path d="M438.70 191.44L440.40 189.59L442.10 191.44L440.40 193.29Z" fill="#000" stroke="#000" stroke-width="1.0" stroke-linejoin="round"/>
<path d="M440.00 199.81L441.70 197.96L443.40 199.81L441.70 201.66Z" fill="#000" stroke="#000" stroke-width="1.0" stroke-linejoin="round"/>
<path d="M438.50 208.18L440.20 206.33L441.90 208.18L440.20 210.03Z" fill="#000" stroke="#000" stroke-width="1.0" stroke-linejoin="round"/>
<path d="M480.10 224.91L481.80 223.06L483.50 224.91L481.80 226.76Z" fill="#000" stroke="#000" stroke-width="1.0" stroke-linejoin="round"/>
<path d="M440.50 233.28L442.20 231.43L443.90 233.28L442.20 235.13Z" fill="#000" stroke="#000" stroke-width="1.0" stroke-linejoin="round"/>
<path d="M445.30 241.65L447.00 239.80L448.70 241.65L447.00 243.50Z" fill="#000" stroke="#000" stroke-width="1.0" stroke-linejoin="round"/>
<path d="M433.90 250.02L435.60 248.17L437.30 250.02L435.60 251.87Z" fill="#000" stroke="#000" stroke-width="1.0" stroke-linejoin="round"/>
<path d="M451.30 258.39L453.00 256.54L454.70 258.39L453.00 260.24Z" fill="#000" stroke="#000" stroke-width="1.0" stroke-linejoin="round"/>
<path d="M462.80 275.12L464.50 273.27L466.20 275.12L464.50 276.97Z" fill="#000" stroke="#000" stroke-width="1.0" stroke-linejoin="round"/>
<path d="M469.70 283.49L471.40 281.64L473.10 283.49L471.40 285.34Z" fill="#000" stroke="#000" stroke-width="1.0" stroke-linejoin="round"/>
<path d="M465.50 291.86L467.20 290.01L468.90 291.86L467.20 293.71Z" fill="#000" stroke="#000" stroke-width="1.0" stroke-linejoin="round"/>
<path d="M473.30 300.23L475.00 298.38L476.70 300.23L475.00 302.08Z" fill="#000" stroke="#000" stroke-width="1.0" stroke-linejoin="round"/>
<path d="M476.00 308.59L477.70 306.74L479.40 308.59L477.70 310.44Z" fill="#000" stroke="#000" stroke-width="1.0" stroke-linejoin="round"/>
<rect x="181.8" y="30.5" width="3.40" height="3.20" fill="#000"/>
<path d="M184.40 40.50L186.10 38.65L187.80 40.50L186.10 42.35Z" fill="#000" stroke="#000" stroke-width="1.0" stroke-linejoin="round"/>
<path d="M320.00 31.80L321.70 29.95L323.40 31.80L321.70 33.65Z" fill="#000" stroke="#000" stroke-width="1.0" stroke-linejoin="round"/>
<rect x="322.3" y="39.0" width="2.70" height="2.90" fill="#000"/>
<path d="M457.00 32.00L458.70 30.15L460.40 32.00L458.70 33.85Z" fill="#000" stroke="#000" stroke-width="1.0" stroke-linejoin="round"/>
<line x1="456.9" y1="29.6" x2="456.9" y2="34.2" stroke="#111" stroke-width="0.8"/>
<path d="M458.45 40.40L460.15 38.55L461.85 40.40L460.15 42.25Z" fill="#000" stroke="#000" stroke-width="1.0" stroke-linejoin="round"/>
<g opacity="0.999">
<text transform="rotate(0.03 3.3 34.0)" x="3.3" y="34.0" font-size="7.5" fill="#151515" stroke="#151515" stroke-width="0.08">platelet count</text>
<text transform="rotate(0.03 3.3 42.4)" x="3.3" y="42.4" font-size="7.5" fill="#151515" stroke="#151515" stroke-width="0.08">immature platelet fraction</text>
<text transform="rotate(0.03 3.3 58.9)" x="3.3" y="58.9" font-size="7.5" fill="#151515" stroke="#151515" stroke-width="0.08">forward light scatter, no agonist</text>
<text transform="rotate(0.03 3.3 76.7)" x="3.3" y="76.7" font-size="7.5" fill="#151515" stroke="#151515" stroke-width="0.08">% PAC1 positive, no agonist</text>
<text transform="rotate(0.03 3.3 85.3)" x="3.3" y="85.3" font-size="7.5" fill="#151515" stroke="#151515" stroke-width="0.08">% PAC1 positive, 0.5 µM ADP</text>
<text transform="rotate(0.03 3.3 93.7)" x="3.3" y="93.7" font-size="7.5" fill="#151515" stroke="#151515" stroke-width="0.08">% PAC1 positive, 20 µM ADP</text>
<text transform="rotate(0.03 3.3 102.3)" x="3.3" y="102.3" font-size="7.5" fill="#151515" stroke="#151515" stroke-width="0.08">% PAC1 positive, 1.5 µM TRAP</text>
<text transform="rotate(0.03 3.3 110.7)" x="3.3" y="110.7" font-size="7.5" fill="#151515" stroke="#151515" stroke-width="0.08">% PAC1 positive, 20 µM TRAP</text>
<text transform="rotate(0.03 3.3 126.7)" x="3.3" y="126.7" font-size="7.5" fill="#151515" stroke="#151515" stroke-width="0.08">PAC1 MFI, no agonist</text>
<text transform="rotate(0.03 3.3 135.2)" x="3.3" y="135.2" font-size="7.5" fill="#151515" stroke="#151515" stroke-width="0.08">PAC1 MFI, 0.5 µM ADP</text>
<text transform="rotate(0.03 3.3 143.9)" x="3.3" y="143.9" font-size="7.5" fill="#151515" stroke="#151515" stroke-width="0.08">PAC1 MFI, 20 µM ADP</text>
<text transform="rotate(0.03 3.3 152.5)" x="3.3" y="152.5" font-size="7.5" fill="#151515" stroke="#151515" stroke-width="0.08">PAC1 MFI, 1.5 µM TRAP</text>
<text transform="rotate(0.03 3.3 161.1)" x="3.3" y="161.1" font-size="7.5" fill="#151515" stroke="#151515" stroke-width="0.08">PAC1 MFI, 20 µM TRAP</text>
<text transform="rotate(0.03 3.3 176.7)" x="3.3" y="176.7" font-size="7.5" fill="#151515" stroke="#151515" stroke-width="0.08">% P-selectin positive, no agonist</text>
<text transform="rotate(0.03 3.3 185.3)" x="3.3" y="185.3" font-size="7.5" fill="#151515" stroke="#151515" stroke-width="0.08">% P-selectin positive, 0.5 µM ADP</text>
<text transform="rotate(0.03 3.3 194.0)" x="3.3" y="194.0" font-size="7.5" fill="#151515" stroke="#151515" stroke-width="0.08">% P-selectin positive, 20 µM ADP</text>
<text transform="rotate(0.03 3.3 202.5)" x="3.3" y="202.5" font-size="7.5" fill="#151515" stroke="#151515" stroke-width="0.08">% P-selectin positive, 1.5 µM TRAP</text>
<text transform="rotate(0.03 3.3 211.1)" x="3.3" y="211.1" font-size="7.5" fill="#151515" stroke="#151515" stroke-width="0.08">% P-selectin positive, 20 µM TRAP</text>
<text transform="rotate(0.03 3.3 226.7)" x="3.3" y="226.7" font-size="7.5" fill="#151515" stroke="#151515" stroke-width="0.08">P-selectin MFI, no agonist</text>
<text transform="rotate(0.03 3.3 235.1)" x="3.3" y="235.1" font-size="7.5" fill="#151515" stroke="#151515" stroke-width="0.08">P-selectin MFI, 0.5 µM ADP</text>
<text transform="rotate(0.03 3.3 243.6)" x="3.3" y="243.6" font-size="7.5" fill="#151515" stroke="#151515" stroke-width="0.08">P-selectin MFI, 20 µM ADP</text>
<text transform="rotate(0.03 3.3 252.0)" x="3.3" y="252.0" font-size="7.5" fill="#151515" stroke="#151515" stroke-width="0.08">P-selectin MFI, 1.5 µM TRAP</text>
<text transform="rotate(0.03 3.3 260.7)" x="3.3" y="260.7" font-size="7.5" fill="#151515" stroke="#151515" stroke-width="0.08">P-selectin MFI, 20 µM TRAP</text>
<text transform="rotate(0.03 3.3 276.7)" x="3.3" y="276.7" font-size="7.5" fill="#151515" stroke="#151515" stroke-width="0.08">GPIb<tspan font-size="6.3">α</tspan> MFI, no agonist</text>
<text transform="rotate(0.03 3.3 285.5)" x="3.3" y="285.5" font-size="7.5" fill="#151515" stroke="#151515" stroke-width="0.08">GPIb<tspan font-size="6.3">α</tspan> MFI, 0.5 µM ADP</text>
<text transform="rotate(0.03 3.3 294.6)" x="3.3" y="294.6" font-size="7.5" fill="#151515" stroke="#151515" stroke-width="0.08">GPIb<tspan font-size="6.3">α</tspan> MFI, 20 µM ADP</text>
<text transform="rotate(0.03 3.3 303.7)" x="3.3" y="303.7" font-size="7.5" fill="#151515" stroke="#151515" stroke-width="0.08">GPIb<tspan font-size="6.3">α</tspan> MFI, 1.5 µM TRAP</text>
<text transform="rotate(0.03 3.3 312.5)" x="3.3" y="312.5" font-size="7.5" fill="#151515" stroke="#151515" stroke-width="0.08">GPIb<tspan font-size="6.3">α</tspan> MFI, 20 µM TRAP</text>
<text transform="rotate(0.03 186.5 8.5)" x="186.5" y="8.5" font-size="9.2" font-weight="bold" text-anchor="middle" fill="#000" stroke="#000" stroke-width="0.12" word-spacing="0.5">Visit 1 test <tspan font-style="italic">vs.</tspan></text>
<text transform="rotate(0.03 186.5 20.0)" x="186.5" y="20.0" font-size="9.15" font-weight="bold" text-anchor="middle" fill="#000" stroke="#000" stroke-width="0.12">Visit 1 bleeding score</text>
<text transform="rotate(0.03 131.85 321.6)" x="131.85" y="321.6" font-size="5.7" font-weight="bold" text-anchor="middle" fill="#111" stroke="#111" stroke-width="0.2">0.01</text>
<text transform="rotate(0.03 158.6 321.6)" x="158.6" y="321.6" font-size="5.7" font-weight="bold" text-anchor="middle" fill="#111" stroke="#111" stroke-width="0.2">0.1</text>
<text transform="rotate(0.03 185.35 321.6)" x="185.35" y="321.6" font-size="5.7" font-weight="bold" text-anchor="middle" fill="#111" stroke="#111" stroke-width="0.2">1</text>
<text transform="rotate(0.03 212.1 321.6)" x="212.1" y="321.6" font-size="5.7" font-weight="bold" text-anchor="middle" fill="#111" stroke="#111" stroke-width="0.2">10</text>
<text transform="rotate(0.03 238.85 321.6)" x="238.85" y="321.6" font-size="5.7" font-weight="bold" text-anchor="middle" fill="#111" stroke="#111" stroke-width="0.2">100</text>
<text transform="rotate(0.03 323.5 8.5)" x="323.5" y="8.5" font-size="9.2" font-weight="bold" text-anchor="middle" fill="#000" stroke="#000" stroke-width="0.12" word-spacing="0.5">Visit 2 test <tspan font-style="italic">vs.</tspan></text>
<text transform="rotate(0.03 323.5 20.0)" x="323.5" y="20.0" font-size="9.15" font-weight="bold" text-anchor="middle" fill="#000" stroke="#000" stroke-width="0.12">Visit 2 bleeding score</text>
<text transform="rotate(0.03 269.1 321.6)" x="269.1" y="321.6" font-size="5.7" font-weight="bold" text-anchor="middle" fill="#111" stroke="#111" stroke-width="0.2">0.01</text>
<text transform="rotate(0.03 295.85 321.6)" x="295.85" y="321.6" font-size="5.7" font-weight="bold" text-anchor="middle" fill="#111" stroke="#111" stroke-width="0.2">0.1</text>
<text transform="rotate(0.03 322.6 321.6)" x="322.6" y="321.6" font-size="5.7" font-weight="bold" text-anchor="middle" fill="#111" stroke="#111" stroke-width="0.2">1</text>
<text transform="rotate(0.03 349.35 321.6)" x="349.35" y="321.6" font-size="5.7" font-weight="bold" text-anchor="middle" fill="#111" stroke="#111" stroke-width="0.2">10</text>
<text transform="rotate(0.03 376.1 321.6)" x="376.1" y="321.6" font-size="5.7" font-weight="bold" text-anchor="middle" fill="#111" stroke="#111" stroke-width="0.2">100</text>
<text transform="rotate(0.03 460.5 8.5)" x="460.5" y="8.5" font-size="9.2" font-weight="bold" text-anchor="middle" fill="#000" stroke="#000" stroke-width="0.12" word-spacing="0.5">Visit 1 test <tspan font-style="italic">vs.</tspan></text>
<text transform="rotate(0.03 460.5 20.0)" x="460.5" y="20.0" font-size="9.15" font-weight="bold" text-anchor="middle" fill="#000" stroke="#000" stroke-width="0.12">Visit 2 bleeding score</text>
<text transform="rotate(0.03 406.5 321.6)" x="406.5" y="321.6" font-size="5.7" font-weight="bold" text-anchor="middle" fill="#111" stroke="#111" stroke-width="0.2">0.01</text>
<text transform="rotate(0.03 433.25 321.6)" x="433.25" y="321.6" font-size="5.7" font-weight="bold" text-anchor="middle" fill="#111" stroke="#111" stroke-width="0.2">0.1</text>
<text transform="rotate(0.03 460.0 321.6)" x="460.0" y="321.6" font-size="5.7" font-weight="bold" text-anchor="middle" fill="#111" stroke="#111" stroke-width="0.2">1</text>
<text transform="rotate(0.03 486.75 321.6)" x="486.75" y="321.6" font-size="5.7" font-weight="bold" text-anchor="middle" fill="#111" stroke="#111" stroke-width="0.2">10</text>
<text transform="rotate(0.03 513.5 321.6)" x="513.5" y="321.6" font-size="5.7" font-weight="bold" text-anchor="middle" fill="#111" stroke="#111" stroke-width="0.2">100</text>
<text transform="rotate(0.03 322.6 338.8)" x="322.6" y="338.8" font-size="9.35" font-weight="bold" text-anchor="middle" fill="#000" stroke="#000" stroke-width="0.12">Univariate Odds Ratio (per 1 SD increase)</text>
</g>
</svg></body></html>
